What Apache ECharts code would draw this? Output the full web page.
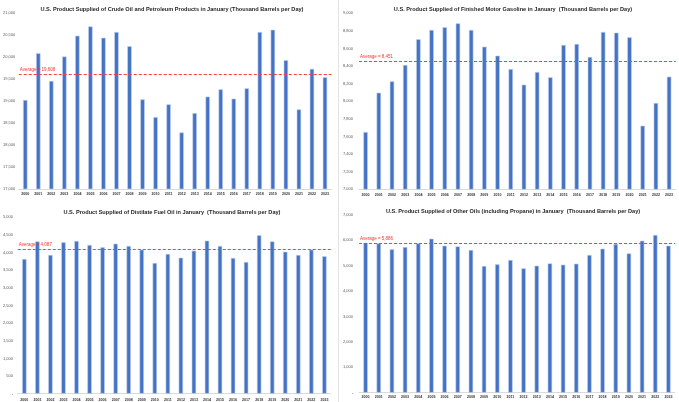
<!DOCTYPE html>
<html><head><meta charset="utf-8">
<script src="https://cdn.jsdelivr.net/npm/echarts@6/dist/echarts.min.js"></script>
<style>
html,body{margin:0;padding:0;background:#fff;width:679px;height:402px;overflow:hidden;position:relative}
.p{position:absolute;overflow:hidden}
</style></head><body>
<div id="c1" class="p" style="left:0;top:0;width:340px;height:200px"></div>
<div id="c2" class="p" style="left:340px;top:0;width:339px;height:200px"></div>
<div id="c3" class="p" style="left:0;top:200px;width:340px;height:202px"></div>
<div id="c4" class="p" style="left:340px;top:200px;width:339px;height:202px"></div>
<div style="position:absolute;left:338px;top:0;width:1px;height:402px;background:#e4e4e4"></div>
<script>
const years = ['2000','2001','2002','2003','2004','2005','2006','2007','2008','2009','2010','2011','2012','2013','2014','2015','2016','2017','2018','2019','2020','2021','2022','2023'];

const crudeTitle = 'U.S. Product Supplied of Crude Oil and Petroleum Products in January (Thousand Barrels per Day)';
const crude = [19023,20087,19456,20011,20483,20696,20437,20567,20247,19038,18635,18924,18285,18726,19099,19266,19053,19289,20567,20620,19928,18810,19730,19540];
const crudeAvg = 19608;

const gasTitle = 'U.S. Product Supplied of Finished Motor Gasoline in January  (Thousand Barrels per Day)';
const gasoline = [7651,8098,8227,8413,8705,8811,8841,8886,8811,8621,8519,8367,8189,8333,8273,8640,8652,8504,8788,8780,8727,7723,7981,8280];
const gasAvg = 8451;

const distTitle = 'U.S. Product Supplied of Distilate Fuel Oil in January  (Thousand Barrels per Day)';
const distillate = [3819,4319,3932,4291,4329,4215,4149,4253,4187,4083,3705,3960,3856,4055,4338,4187,3847,3733,4490,4319,4026,3932,4083,3894];
const distAvg = 4087;

const otherTitle = 'U.S. Product Supplied of Other Oils (including Propane) in January  (Thousand Barrels per Day)';
const otherOils = [5910,5884,5648,5740,5884,6068,5792,5766,5621,4991,5057,5227,4899,5004,5096,5044,5083,5424,5674,5858,5490,5989,6212,5792];
const otherAvg = 5886;

function fmt(v){ return v === 0 ? '-' : Math.round(v).toLocaleString('en-US'); }

function make(id, cfg){
  const ch = echarts.init(document.getElementById(id), null, {renderer:'canvas'});
  ch.setOption({
    animation:false,
    title:{text:cfg.title, left:cfg.titleX, top:cfg.titleY, textAlign:'center',
      textStyle:{fontFamily:'Liberation Sans', fontWeight:'bold', fontSize:5.6, color:'#262626'}},
    grid:cfg.grid,
    xAxis:{type:'category', data:years,
      axisLine:{lineStyle:{color:'#d0d0d0', width:0.8}}, axisTick:{show:false},
      axisLabel:{fontSize:3.6, fontWeight:'bold', color:'#333333', margin:cfg.xm, interval:0, fontFamily:'Liberation Sans'}},
    yAxis:{type:'value', min:cfg.min, max:cfg.max, interval:cfg.interval,
      splitLine:{show:false}, axisLine:{show:false}, axisTick:{show:false},
      axisLabel:{fontSize:4, color:'#595959', margin:cfg.ym, formatter:fmt, fontFamily:'Liberation Sans'}},
    series:[{type:'bar', data:cfg.data, barWidth:'34%',
      itemStyle:{color:'#4472C4', borderColor:'#c5d3ee', borderWidth:0.6},
      markLine:{silent:true, symbol:'none',
        lineStyle:{type:[3,2], color:'#ff3b3b', width:1},
        label:{position:'insideStartTop', distance:[1,2], formatter:'Average = '+fmt(cfg.avg), fontSize:4.5, color:'#ff3030', fontFamily:'Liberation Sans'},
        data:[{yAxis:cfg.avg}]}
    }]
  });
}

make('c1',{title:crudeTitle, titleX:167, titleY:1.5, data:crude, avg:crudeAvg, min:17000, max:21000, interval:500,
  grid:{left:18.5, right:8.5, top:13, bottom:11}, xm:3.3, ym:3.5});
make('c2',{title:gasTitle, titleX:168, titleY:1.5, data:gasoline, avg:gasAvg, min:7000, max:9000, interval:200,
  grid:{left:14.3, right:3.3, top:13.3, bottom:10.7}, xm:3.3, ym:6});
make('c3',{title:distTitle, titleX:167, titleY:4.5, data:distillate, avg:distAvg, min:0, max:5000, interval:500,
  grid:{left:16.8, right:9.1, top:17.3, bottom:8.3}, xm:3.8, ym:4.8});
make('c4',{title:otherTitle, titleX:168, titleY:3.5, data:otherOils, avg:otherAvg, min:0, max:7000, interval:1000,
  grid:{left:14, right:4, top:15, bottom:9.3}, xm:2.6, ym:6});
</script>
</body></html>
